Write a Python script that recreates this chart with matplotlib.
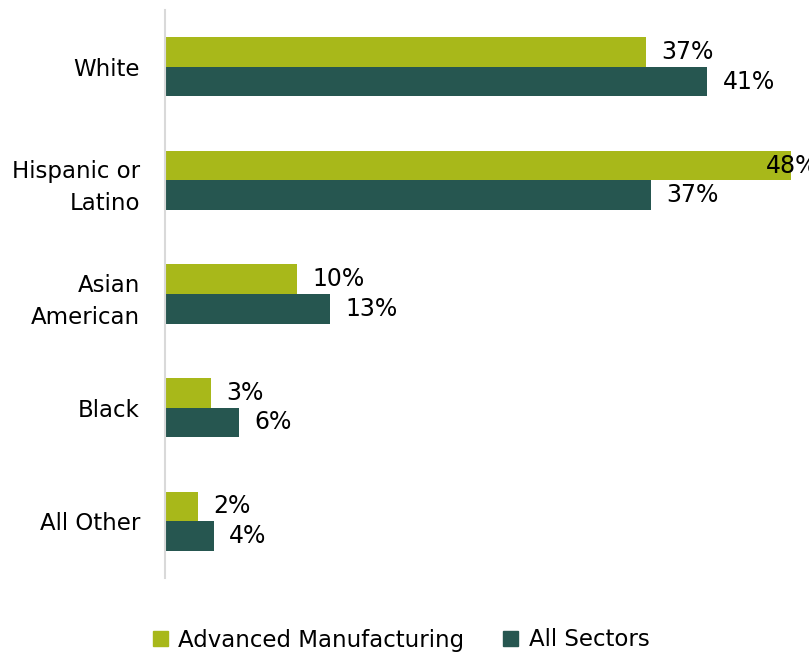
import matplotlib
matplotlib.use("Agg")
import matplotlib.pyplot as plt
import numpy as np
from matplotlib.patches import Patch

categories = ["White", "Hispanic or\nLatino", "Asian\nAmerican", "Black", "All Other"]
adv_mfg = [36.8, 47.9, 10.1, 3.5, 2.5]
all_sectors = [41.5, 37.2, 12.6, 5.7, 3.75]
adv_labels = ["37%", "48%", "10%", "3%", "2%"]
all_labels = ["41%", "37%", "13%", "6%", "4%"]
series_names = ["Advanced Manufacturing", "All Sectors"]

c_adv = "#a8b81a"
c_all = "#265650"

plt.rcParams['font.family'] = ['DejaVu Sans']
fig = plt.figure(figsize=(8.09, 6.54), dpi=100)
ax = fig.add_axes([165/809, 1 - 578/654, (791-165)/809, (578-10)/654])

y = np.arange(len(categories))
h = 0.26
xmax = max(max(adv_mfg), max(all_sectors))
ax.barh(y - h/2, adv_mfg, height=h, color=c_adv)
ax.barh(y + h/2, all_sectors, height=h, color=c_all)

def put_labels(vals, labs, dy):
    for yi, v, lab in zip(y, vals, labs):
        off = 11 if v < xmax else -18
        ax.annotate(lab, (v, yi + dy), xytext=(off, 0), textcoords="offset points",
                    va="center", ha="left", fontsize=17, color="black",
                    annotation_clip=False)

put_labels(adv_mfg, adv_labels, -h/2)
put_labels(all_sectors, all_labels, h/2)

ax.set_ylim(len(categories) - 0.5, -0.5)
ax.set_xlim(0, xmax)
ax.set_yticks(y)
ax.set_yticklabels(categories, fontsize=16.5, linespacing=1.5)
ax.tick_params(axis="y", length=0, pad=18)
ax.set_xticks([])
for s in ["top", "right", "bottom"]:
    ax.spines[s].set_visible(False)
ax.spines["left"].set_color("#d9d9d9")
ax.spines["left"].set_linewidth(1.5)

handles = [Patch(color=c_adv), Patch(color=c_all)]
fig.legend(handles, series_names, loc="center", bbox_to_anchor=(0.496, 1 - 640/654),
           ncol=2, frameon=False, fontsize=16.5, handlelength=0.65, handleheight=0.65,
           handletextpad=0.45, columnspacing=1.7)

fig.savefig("out.png", dpi=100)
